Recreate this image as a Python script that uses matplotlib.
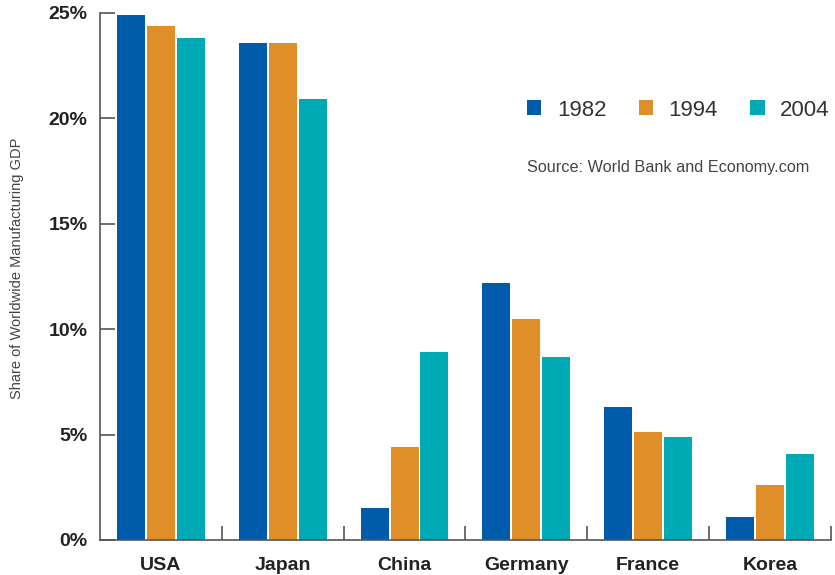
import matplotlib.pyplot as plt
import numpy as np

plt.rcParams['font.family'] = ['Liberation Sans', 'DejaVu Sans']

countries = ['USA', 'Japan', 'China', 'Germany', 'France', 'Korea']
years = ['1982', '1994', '2004']
share_1982 = [24.9, 23.6, 1.5, 12.2, 6.3, 1.1]
share_1994 = [24.4, 23.6, 4.4, 10.5, 5.1, 2.6]
share_2004 = [23.8, 20.9, 8.9, 8.7, 4.9, 4.1]
colors = ['#005BAA', '#E08E28', '#00AAB5']

fig = plt.figure(figsize=(8.35, 5.75), dpi=100)
ax = fig.add_axes([0.1198, 0.0609, 0.8752, 0.9165])

x = np.arange(len(countries))
step = 0.246
width = 0.23
series = [share_1982, share_1994, share_2004]
for i, (vals, col, yr) in enumerate(zip(series, colors, years)):
    ax.bar(x + (i - 1) * step, vals, width, color=col, label=yr)

ax.set_xlim(-0.5, len(countries) - 0.5)
ax.set_ylim(0, 25)

ax.set_yticks([0, 5, 10, 15, 20, 25])
ax.set_yticklabels(['0%', '5%', '10%', '15%', '20%', '25%'],
                   fontsize=14, fontweight='bold', color='#222222')
ax.tick_params(axis='y', direction='in', length=11, width=1.2,
               color='#555555', pad=9)

# group labels centred, boundary ticks between groups
ax.set_xticks(x)
ax.set_xticklabels(countries, fontsize=14, fontweight='bold', color='#222222')
ax.tick_params(axis='x', length=0, pad=12)
ax.set_xticks(np.arange(len(countries)) + 0.5, minor=True)
ax.tick_params(axis='x', which='minor', direction='in', length=10,
               width=1.2, color='#555555')

for s in ['top', 'right']:
    ax.spines[s].set_visible(False)
for s in ['left', 'bottom']:
    ax.spines[s].set_color('#555555')
    ax.spines[s].set_linewidth(1.2)

ax.set_ylabel('Share of Worldwide Manufacturing GDP', fontsize=10.5,
              color='#444444', labelpad=0)
ax.yaxis.set_label_coords(-0.104, 0.515)

leg = ax.legend(loc='center left', bbox_to_anchor=(527 / 835, 1 - 110 / 575),
                bbox_transform=fig.transFigure, ncol=3, frameon=False,
                fontsize=16, handlelength=0.65, handleheight=0.65,
                handletextpad=0.7, columnspacing=1.45,
                borderpad=0, borderaxespad=0)
for t in leg.get_texts():
    t.set_color('#333333')

fig.text(527 / 835, 1 - 167 / 575, 'Source: World Bank and Economy.com',
         fontsize=11.7, color='#444444', va='center', ha='left')

fig.savefig('out.png', dpi=100)
